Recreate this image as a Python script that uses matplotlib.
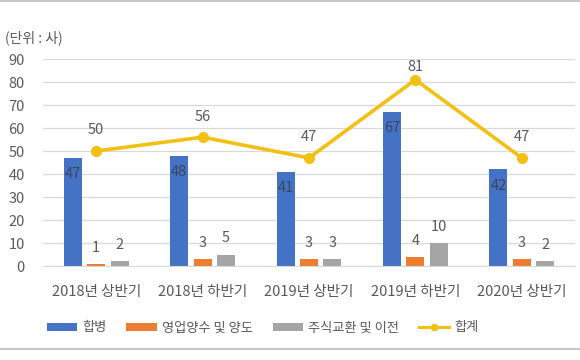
import numpy as np
import matplotlib.pyplot as plt
from matplotlib.lines import Line2D

plt.rcParams["font.family"] = ["Noto Sans CJK KR", "DejaVu Sans"]

categories = ["2018년 상반기", "2018년 하반기", "2019년 상반기", "2019년 하반기", "2020년 상반기"]
merger = [47, 48, 41, 67, 42]
transfer = [1, 3, 3, 4, 3]
stock = [2, 5, 3, 10, 2]
total = [50, 56, 47, 81, 47]

BLUE = "#4472C4"
ORANGE = "#ED7D31"
GRAY = "#A5A5A5"
GOLD = "#F2C013"
TXT = "#595959"

fig = plt.figure(figsize=(5.8, 3.6), dpi=100)
ax = fig.add_axes([43 / 580, 1 - 266 / 360, 532 / 580, 207 / 360])

x = np.arange(len(categories))
w = 0.17
off = 0.22
h1 = ax.bar(x - off, merger, w, color=BLUE, label="합병", zorder=2)
h2 = ax.bar(x, transfer, w, color=ORANGE, label="영업양수 및 양도", zorder=2)
h3 = ax.bar(x + off, stock, w, color=GRAY, label="주식교환 및 이전", zorder=2)
ax.plot(x, total, color=GOLD, lw=2.6, marker="o", ms=7, zorder=3)
h4 = Line2D([], [], color=GOLD, lw=2.2, marker="o", ms=4.5)

fs = 10.5
for xi, v in zip(x - off, merger):
    ax.text(xi, v - 7, str(v), ha="center", va="center", fontsize=fs, color="#3A4660", zorder=4)
for xi, v in zip(x, transfer):
    ax.text(xi, v + 7, str(v), ha="center", va="center", fontsize=fs, color=TXT, zorder=4)
for xi, v in zip(x + off, stock):
    ax.text(xi, v + 7, str(v), ha="center", va="center", fontsize=fs, color=TXT, zorder=4)
for xi, v in zip(x, total):
    ax.text(xi, min(v + 9, 86.5), str(v), ha="center", va="center", fontsize=fs, color=TXT, zorder=4)

ax.set_xlim(-0.5, len(categories) - 0.5)
ax.set_ylim(0, 90)
ax.set_yticks(range(0, 91, 10))
ax.set_xticks(x)
ax.set_xticklabels(categories)
ax.grid(axis="y", color="#D9D9D9", lw=0.9, zorder=0)
ax.tick_params(length=0, labelsize=fs, colors=TXT)
ax.tick_params(axis="x", pad=14)
ax.tick_params(axis="y", pad=13)
for s in ["top", "right", "left"]:
    ax.spines[s].set_visible(False)
ax.spines["bottom"].set_color("#D9D9D9")

fig.text(5 / 580, 1 - 38 / 360, "(단위 : 사)", fontsize=10, color=TXT, va="center")

fig.legend([h1, h2, h3, h4], ["합병", "영업양수 및 양도", "주식교환 및 이전", "합계"],
           loc="center left", bbox_to_anchor=(40 / 580, 1 - 328 / 360), ncol=4, frameon=False,
           fontsize=9.5, labelcolor=TXT, handlelength=2.3, handleheight=0.5,
           columnspacing=1.5, handletextpad=0.4, borderpad=0)

fig.add_artist(Line2D([0, 1], [1 - 1 / 360, 1 - 1 / 360], color="#C8C8C8", lw=1.5))
fig.add_artist(Line2D([0, 1], [1 - 349 / 360, 1 - 349 / 360], color="#C8C8C8", lw=1.5))

fig.savefig("out.png", dpi=100)
